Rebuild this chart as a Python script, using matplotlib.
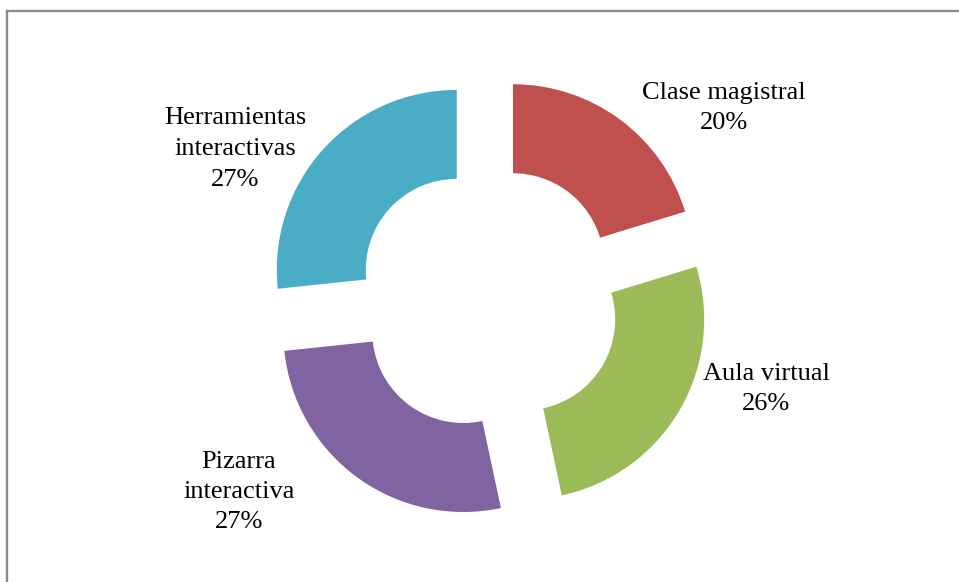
import matplotlib

matplotlib.use("Agg")
import matplotlib.pyplot as plt
from matplotlib.lines import Line2D

# Data (shares; labels show rounded percentages)
categories = ["Clase magistral", "Aula virtual", "Pizarra\ninteractiva", "Herramientas\ninteractivas"]
shares = [20.3, 26.4, 26.7, 26.7]
colors = ["#C0504D", "#9BBB59", "#8064A2", "#4BACC6"]

# Label anchor positions in pixel units (layout only)
label_pos = [(724, 474), (766, 193), (239, 90), (235, 433)]

plt.rcParams["font.family"] = ["Liberation Serif", "DejaVu Serif"]

W, H = 959, 582
fig = plt.figure(figsize=(W / 100, H / 100), dpi=100)
ax = fig.add_axes([0, 0, 1, 1])

radius = 180
center = (488, H - 298)
ring = 89
# pie() takes the explode offset in data units, here pixels
explode = [42] * len(shares)

ax.pie(
    shares,
    colors=colors,
    startangle=90,
    counterclock=False,
    radius=radius,
    center=center,
    explode=explode,
    wedgeprops=dict(width=ring, linewidth=0),
)

total = sum(shares)
for cat, val, (x, y) in zip(categories, shares, label_pos):
    pct = round(val / total * 100)
    ax.text(
        x,
        y,
        f"{cat}\n{pct}%",
        ha="center",
        va="center",
        fontsize=19,
        color="black",
        linespacing=1.5,
    )

ax.set_xlim(0, W)
ax.set_ylim(0, H)
ax.set_aspect("equal")
ax.axis("off")

# Chart area border (only top and left edges fall inside the image)
border_color = "#8c8c8c"
fig.add_artist(Line2D([7 / W, 7 / W], [0, 1 - 11 / H], color=border_color, linewidth=1.7))
fig.add_artist(Line2D([7 / W, 1], [1 - 11 / H, 1 - 11 / H], color=border_color, linewidth=1.7))

fig.savefig("out.png", dpi=100)
